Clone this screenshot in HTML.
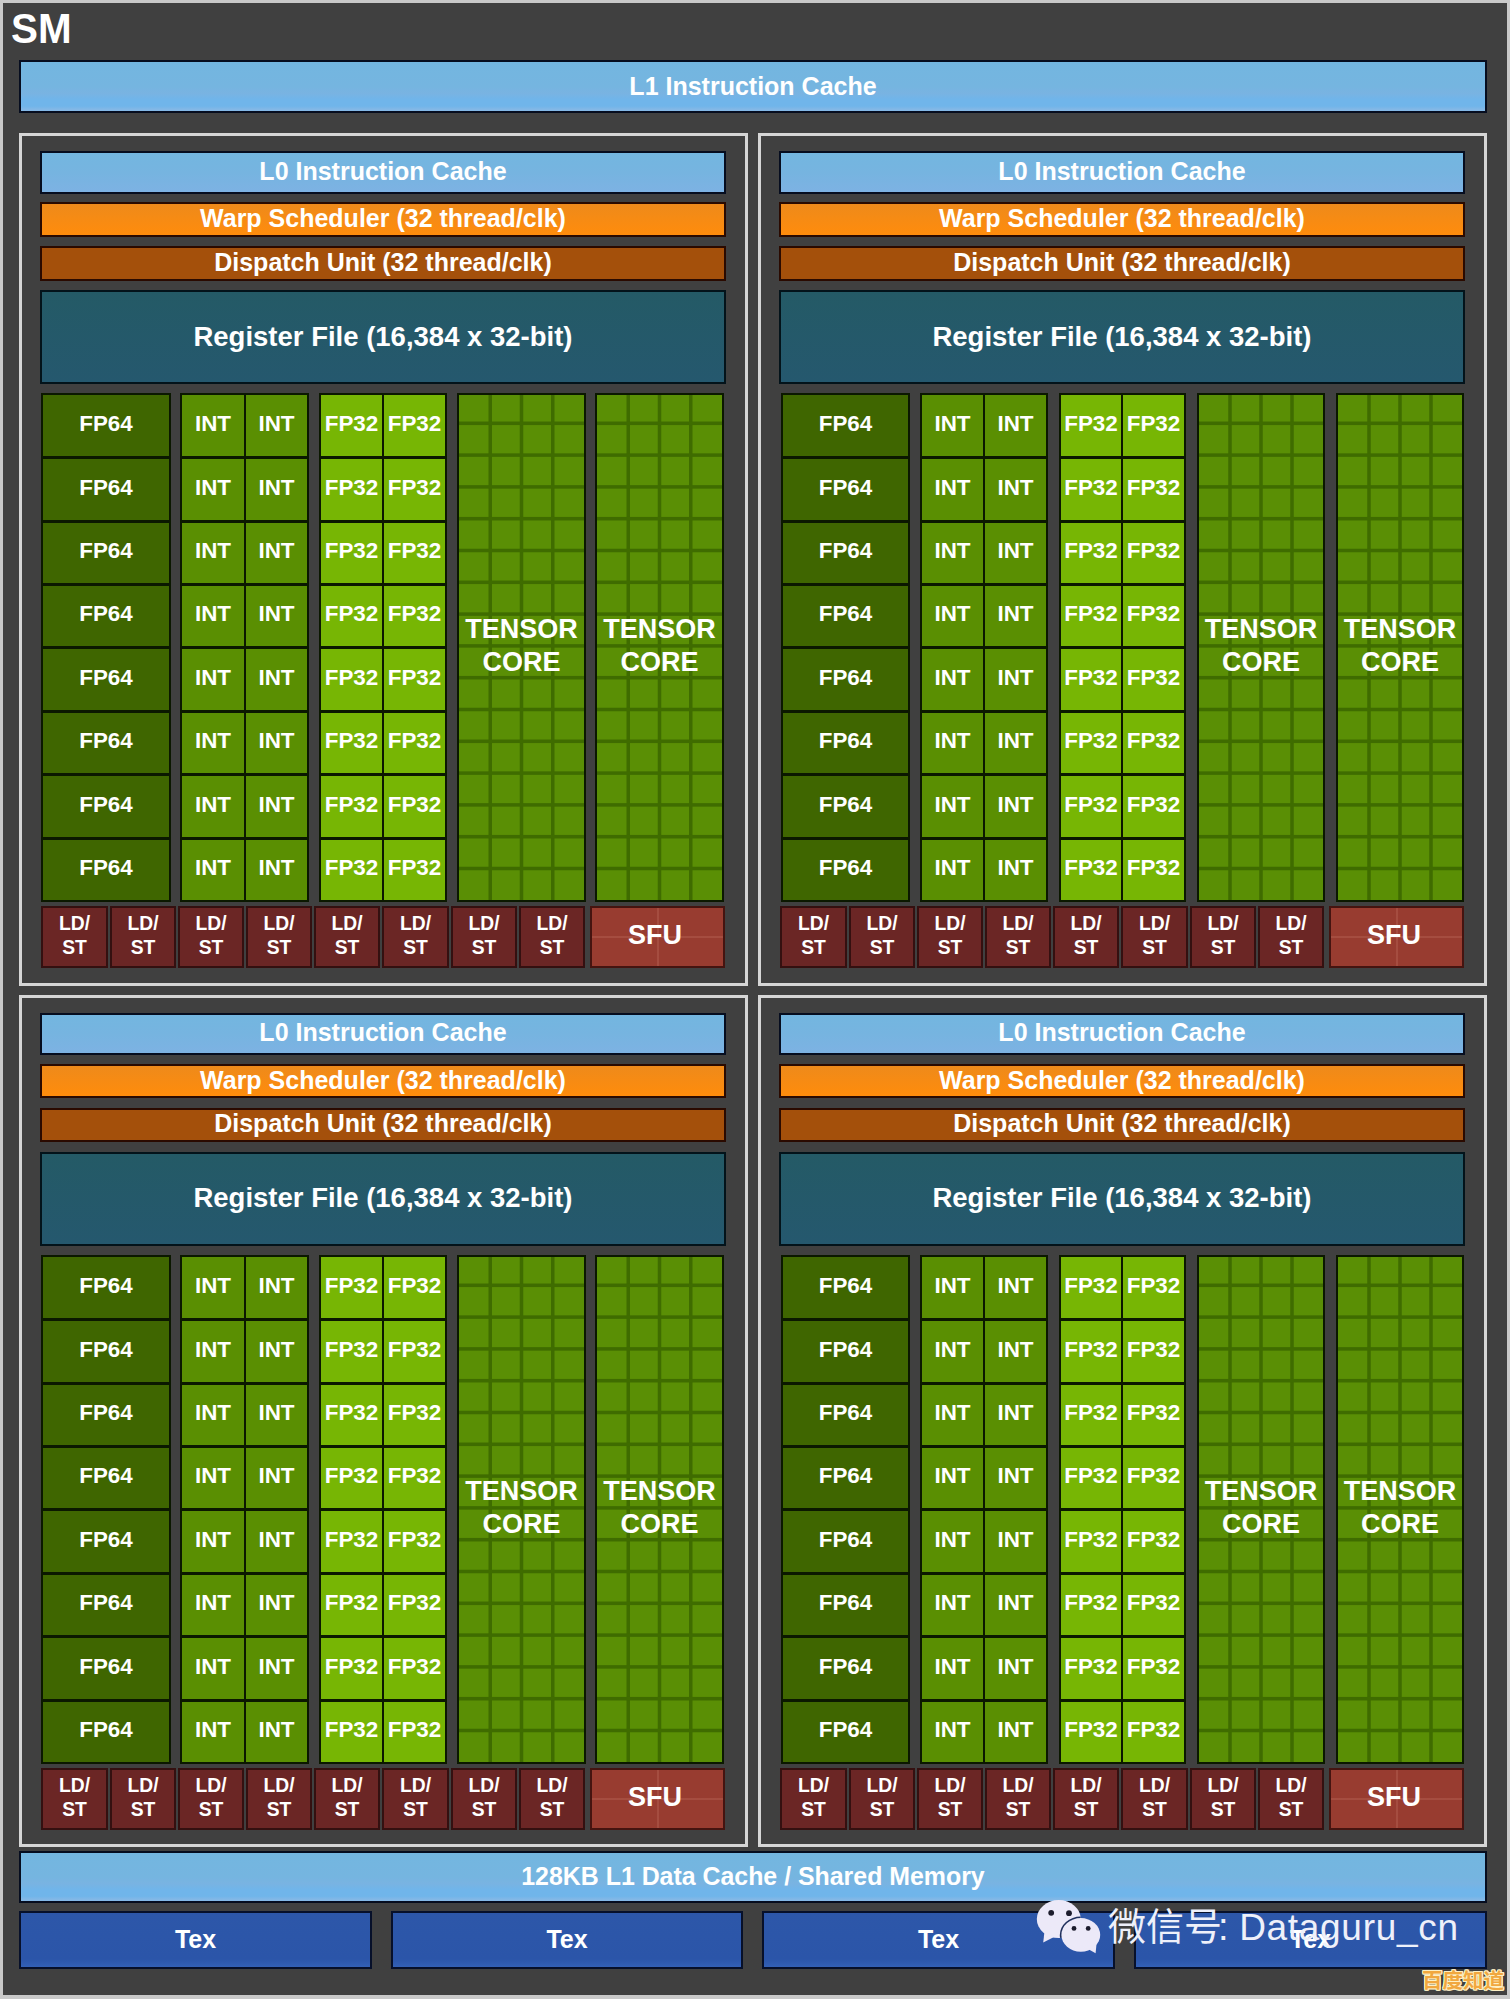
<!DOCTYPE html><html lang="en"><head><meta charset="utf-8"><title>SM</title><style>
*{margin:0;padding:0;box-sizing:border-box}
html,body{width:1510px;height:1999px;overflow:hidden;background:#c9c9c9}
body{position:relative;font-family:"Liberation Sans",sans-serif;font-weight:bold;color:#fff}
.a{position:absolute}
.c{position:absolute;display:flex;align-items:center;justify-content:center;text-align:center;white-space:nowrap}
#bg{left:3px;top:3px;width:1504px;height:1992px;background:#404040}
.sm{left:11px;top:5px;font-size:40.4px;line-height:46px;transform:scaleY(1.04);transform-origin:50% 50%}
.blue{background:linear-gradient(#73b6e0 0%,#75b5e0 50%,#79b3e2 64%,#70b5ea 76%,#70b5ea 90%,#84b8e6 97%);border:2px solid #060d1f;font-size:25px}
.l0{background:linear-gradient(#73b6e0 0%,#76b4e0 50%,#7db2e3 100%)}
.sub{border:3px solid #d6d6d6}
.warp{background:linear-gradient(#ee8a1b,#ff8c0c);border:2px solid #2a0a00;font-size:25px}
.disp{background:#a4500b;border:2px solid #2a0a00;font-size:25px}
.reg{background:linear-gradient(#245a66,#25586e);border:2px solid #03131a;font-size:27.5px}
.col{background:#0b1800}
.fp64{background:#3f6600;font-size:22.4px}
.int{background:#5a8f02;font-size:22.4px}
.fp32{background:#77b604;font-size:22.4px}
.tc{background-color:#5a8f05;border:2px solid #0b1800;font-size:27px;line-height:33px;white-space:normal}
.ld{background:#6b2625;border:2px solid #341010;font-size:19.3px;line-height:24px;white-space:normal}
.sfu{background:linear-gradient(90deg,transparent 65px,rgba(255,190,170,.13) 65px,rgba(255,190,170,.13) 67px,transparent 67px),linear-gradient(180deg,transparent 28px,rgba(255,190,170,.13) 28px,rgba(255,190,170,.13) 30px,transparent 30px),#983c30;border:2px solid #451410;font-size:27px}
.tex{background:linear-gradient(#2d57a9 0%,#2b55a9 85%,#3360b6 100%);border:2px solid #07102a;font-size:25px}
</style></head><body>
<div class="a" id="bg"></div>
<div class="a sm">SM</div>
<div class="c blue" style="left:19px;top:60px;width:1468px;height:53px;">L1 Instruction Cache</div>
<div class="c sub" style="left:19px;top:133px;width:729px;height:853px;"></div>
<div class="c blue l0" style="left:40px;top:151px;width:686px;height:43px;padding-bottom:3px;">L0 Instruction Cache</div>
<div class="c warp" style="left:40px;top:202px;width:686px;height:35px;padding-bottom:2px;">Warp Scheduler (32 thread/clk)</div>
<div class="c disp" style="left:40px;top:246px;width:686px;height:35px;padding-bottom:3px;">Dispatch Unit (32 thread/clk)</div>
<div class="c reg" style="left:40px;top:290px;width:686px;height:94px;padding-bottom:1px;">Register File (16,384 x 32-bit)</div>
<div class="c col" style="left:41px;top:393px;width:130px;height:509px;"></div>
<div class="c fp64" style="left:43px;top:395px;width:126px;height:61px;padding-bottom:4px;">FP64</div>
<div class="c fp64" style="left:43px;top:459px;width:126px;height:61px;padding-bottom:4px;">FP64</div>
<div class="c fp64" style="left:43px;top:523px;width:126px;height:60px;padding-bottom:4px;">FP64</div>
<div class="c fp64" style="left:43px;top:586px;width:126px;height:60px;padding-bottom:4px;">FP64</div>
<div class="c fp64" style="left:43px;top:649px;width:126px;height:61px;padding-bottom:4px;">FP64</div>
<div class="c fp64" style="left:43px;top:713px;width:126px;height:60px;padding-bottom:4px;">FP64</div>
<div class="c fp64" style="left:43px;top:776px;width:126px;height:61px;padding-bottom:4px;">FP64</div>
<div class="c fp64" style="left:43px;top:840px;width:126px;height:60px;padding-bottom:4px;">FP64</div>
<div class="c col" style="left:180px;top:393px;width:129px;height:509px;"></div>
<div class="c int" style="left:182px;top:395px;width:62px;height:61px;padding-bottom:4px;">INT</div>
<div class="c int" style="left:246px;top:395px;width:61px;height:61px;padding-bottom:4px;">INT</div>
<div class="c int" style="left:182px;top:459px;width:62px;height:61px;padding-bottom:4px;">INT</div>
<div class="c int" style="left:246px;top:459px;width:61px;height:61px;padding-bottom:4px;">INT</div>
<div class="c int" style="left:182px;top:523px;width:62px;height:60px;padding-bottom:4px;">INT</div>
<div class="c int" style="left:246px;top:523px;width:61px;height:60px;padding-bottom:4px;">INT</div>
<div class="c int" style="left:182px;top:586px;width:62px;height:60px;padding-bottom:4px;">INT</div>
<div class="c int" style="left:246px;top:586px;width:61px;height:60px;padding-bottom:4px;">INT</div>
<div class="c int" style="left:182px;top:649px;width:62px;height:61px;padding-bottom:4px;">INT</div>
<div class="c int" style="left:246px;top:649px;width:61px;height:61px;padding-bottom:4px;">INT</div>
<div class="c int" style="left:182px;top:713px;width:62px;height:60px;padding-bottom:4px;">INT</div>
<div class="c int" style="left:246px;top:713px;width:61px;height:60px;padding-bottom:4px;">INT</div>
<div class="c int" style="left:182px;top:776px;width:62px;height:61px;padding-bottom:4px;">INT</div>
<div class="c int" style="left:246px;top:776px;width:61px;height:61px;padding-bottom:4px;">INT</div>
<div class="c int" style="left:182px;top:840px;width:62px;height:60px;padding-bottom:4px;">INT</div>
<div class="c int" style="left:246px;top:840px;width:61px;height:60px;padding-bottom:4px;">INT</div>
<div class="c col" style="left:319px;top:393px;width:128px;height:509px;"></div>
<div class="c fp32" style="left:321px;top:395px;width:61px;height:61px;padding-bottom:4px;">FP32</div>
<div class="c fp32" style="left:384px;top:395px;width:61px;height:61px;padding-bottom:4px;">FP32</div>
<div class="c fp32" style="left:321px;top:459px;width:61px;height:61px;padding-bottom:4px;">FP32</div>
<div class="c fp32" style="left:384px;top:459px;width:61px;height:61px;padding-bottom:4px;">FP32</div>
<div class="c fp32" style="left:321px;top:523px;width:61px;height:60px;padding-bottom:4px;">FP32</div>
<div class="c fp32" style="left:384px;top:523px;width:61px;height:60px;padding-bottom:4px;">FP32</div>
<div class="c fp32" style="left:321px;top:586px;width:61px;height:60px;padding-bottom:4px;">FP32</div>
<div class="c fp32" style="left:384px;top:586px;width:61px;height:60px;padding-bottom:4px;">FP32</div>
<div class="c fp32" style="left:321px;top:649px;width:61px;height:61px;padding-bottom:4px;">FP32</div>
<div class="c fp32" style="left:384px;top:649px;width:61px;height:61px;padding-bottom:4px;">FP32</div>
<div class="c fp32" style="left:321px;top:713px;width:61px;height:60px;padding-bottom:4px;">FP32</div>
<div class="c fp32" style="left:384px;top:713px;width:61px;height:60px;padding-bottom:4px;">FP32</div>
<div class="c fp32" style="left:321px;top:776px;width:61px;height:61px;padding-bottom:4px;">FP32</div>
<div class="c fp32" style="left:384px;top:776px;width:61px;height:61px;padding-bottom:4px;">FP32</div>
<div class="c fp32" style="left:321px;top:840px;width:61px;height:60px;padding-bottom:4px;">FP32</div>
<div class="c fp32" style="left:384px;top:840px;width:61px;height:60px;padding-bottom:4px;">FP32</div>
<div class="c tc" style="left:457px;top:393px;width:129px;height:509px;"><svg class="a" style="left:0;top:0" width="125" height="505" viewBox="0 0 125 505"><rect x="29.50" y="0" width="3.5" height="505" fill="#3f6c00"/><rect x="60.75" y="0" width="3.5" height="505" fill="#3f6c00"/><rect x="92.00" y="0" width="3.5" height="505" fill="#3f6c00"/><rect x="0" y="26.55" width="125" height="3.5" fill="#3f6c00"/><rect x="0" y="58.35" width="125" height="3.5" fill="#3f6c00"/><rect x="0" y="90.15" width="125" height="3.5" fill="#3f6c00"/><rect x="0" y="121.95" width="125" height="3.5" fill="#3f6c00"/><rect x="0" y="153.75" width="125" height="3.5" fill="#3f6c00"/><rect x="0" y="185.55" width="125" height="3.5" fill="#3f6c00"/><rect x="0" y="217.35" width="125" height="3.5" fill="#3f6c00"/><rect x="0" y="249.15" width="125" height="3.5" fill="#3f6c00"/><rect x="0" y="280.95" width="125" height="3.5" fill="#3f6c00"/><rect x="0" y="312.75" width="125" height="3.5" fill="#3f6c00"/><rect x="0" y="344.55" width="125" height="3.5" fill="#3f6c00"/><rect x="0" y="376.35" width="125" height="3.5" fill="#3f6c00"/><rect x="0" y="408.15" width="125" height="3.5" fill="#3f6c00"/><rect x="0" y="439.95" width="125" height="3.5" fill="#3f6c00"/><rect x="0" y="471.75" width="125" height="3.5" fill="#3f6c00"/></svg><span style="position:relative;top:-2px">TENSOR<br>CORE</span></div>
<div class="c tc" style="left:595px;top:393px;width:129px;height:509px;"><svg class="a" style="left:0;top:0" width="125" height="505" viewBox="0 0 125 505"><rect x="29.50" y="0" width="3.5" height="505" fill="#3f6c00"/><rect x="60.75" y="0" width="3.5" height="505" fill="#3f6c00"/><rect x="92.00" y="0" width="3.5" height="505" fill="#3f6c00"/><rect x="0" y="26.55" width="125" height="3.5" fill="#3f6c00"/><rect x="0" y="58.35" width="125" height="3.5" fill="#3f6c00"/><rect x="0" y="90.15" width="125" height="3.5" fill="#3f6c00"/><rect x="0" y="121.95" width="125" height="3.5" fill="#3f6c00"/><rect x="0" y="153.75" width="125" height="3.5" fill="#3f6c00"/><rect x="0" y="185.55" width="125" height="3.5" fill="#3f6c00"/><rect x="0" y="217.35" width="125" height="3.5" fill="#3f6c00"/><rect x="0" y="249.15" width="125" height="3.5" fill="#3f6c00"/><rect x="0" y="280.95" width="125" height="3.5" fill="#3f6c00"/><rect x="0" y="312.75" width="125" height="3.5" fill="#3f6c00"/><rect x="0" y="344.55" width="125" height="3.5" fill="#3f6c00"/><rect x="0" y="376.35" width="125" height="3.5" fill="#3f6c00"/><rect x="0" y="408.15" width="125" height="3.5" fill="#3f6c00"/><rect x="0" y="439.95" width="125" height="3.5" fill="#3f6c00"/><rect x="0" y="471.75" width="125" height="3.5" fill="#3f6c00"/></svg><span style="position:relative;top:-2px">TENSOR<br>CORE</span></div>
<div class="c ld" style="left:41px;top:906px;width:67px;height:62px;padding-bottom:2px;">LD/<br>ST</div>
<div class="c ld" style="left:110px;top:906px;width:66px;height:62px;padding-bottom:2px;">LD/<br>ST</div>
<div class="c ld" style="left:178px;top:906px;width:66px;height:62px;padding-bottom:2px;">LD/<br>ST</div>
<div class="c ld" style="left:246px;top:906px;width:66px;height:62px;padding-bottom:2px;">LD/<br>ST</div>
<div class="c ld" style="left:314px;top:906px;width:66px;height:62px;padding-bottom:2px;">LD/<br>ST</div>
<div class="c ld" style="left:382px;top:906px;width:67px;height:62px;padding-bottom:2px;">LD/<br>ST</div>
<div class="c ld" style="left:451px;top:906px;width:66px;height:62px;padding-bottom:2px;">LD/<br>ST</div>
<div class="c ld" style="left:519px;top:906px;width:66px;height:62px;padding-bottom:2px;">LD/<br>ST</div>
<div class="c sfu" style="left:590px;top:906px;width:135px;height:62px;padding-bottom:4px;padding-right:5px;">SFU</div>
<div class="c sub" style="left:758px;top:133px;width:729px;height:853px;"></div>
<div class="c blue l0" style="left:779px;top:151px;width:686px;height:43px;padding-bottom:3px;">L0 Instruction Cache</div>
<div class="c warp" style="left:779px;top:202px;width:686px;height:35px;padding-bottom:2px;">Warp Scheduler (32 thread/clk)</div>
<div class="c disp" style="left:779px;top:246px;width:686px;height:35px;padding-bottom:3px;">Dispatch Unit (32 thread/clk)</div>
<div class="c reg" style="left:779px;top:290px;width:686px;height:94px;padding-bottom:1px;">Register File (16,384 x 32-bit)</div>
<div class="c col" style="left:781px;top:393px;width:129px;height:509px;"></div>
<div class="c fp64" style="left:783px;top:395px;width:125px;height:61px;padding-bottom:4px;">FP64</div>
<div class="c fp64" style="left:783px;top:459px;width:125px;height:61px;padding-bottom:4px;">FP64</div>
<div class="c fp64" style="left:783px;top:523px;width:125px;height:60px;padding-bottom:4px;">FP64</div>
<div class="c fp64" style="left:783px;top:586px;width:125px;height:60px;padding-bottom:4px;">FP64</div>
<div class="c fp64" style="left:783px;top:649px;width:125px;height:61px;padding-bottom:4px;">FP64</div>
<div class="c fp64" style="left:783px;top:713px;width:125px;height:60px;padding-bottom:4px;">FP64</div>
<div class="c fp64" style="left:783px;top:776px;width:125px;height:61px;padding-bottom:4px;">FP64</div>
<div class="c fp64" style="left:783px;top:840px;width:125px;height:60px;padding-bottom:4px;">FP64</div>
<div class="c col" style="left:920px;top:393px;width:128px;height:509px;"></div>
<div class="c int" style="left:922px;top:395px;width:61px;height:61px;padding-bottom:4px;">INT</div>
<div class="c int" style="left:985px;top:395px;width:61px;height:61px;padding-bottom:4px;">INT</div>
<div class="c int" style="left:922px;top:459px;width:61px;height:61px;padding-bottom:4px;">INT</div>
<div class="c int" style="left:985px;top:459px;width:61px;height:61px;padding-bottom:4px;">INT</div>
<div class="c int" style="left:922px;top:523px;width:61px;height:60px;padding-bottom:4px;">INT</div>
<div class="c int" style="left:985px;top:523px;width:61px;height:60px;padding-bottom:4px;">INT</div>
<div class="c int" style="left:922px;top:586px;width:61px;height:60px;padding-bottom:4px;">INT</div>
<div class="c int" style="left:985px;top:586px;width:61px;height:60px;padding-bottom:4px;">INT</div>
<div class="c int" style="left:922px;top:649px;width:61px;height:61px;padding-bottom:4px;">INT</div>
<div class="c int" style="left:985px;top:649px;width:61px;height:61px;padding-bottom:4px;">INT</div>
<div class="c int" style="left:922px;top:713px;width:61px;height:60px;padding-bottom:4px;">INT</div>
<div class="c int" style="left:985px;top:713px;width:61px;height:60px;padding-bottom:4px;">INT</div>
<div class="c int" style="left:922px;top:776px;width:61px;height:61px;padding-bottom:4px;">INT</div>
<div class="c int" style="left:985px;top:776px;width:61px;height:61px;padding-bottom:4px;">INT</div>
<div class="c int" style="left:922px;top:840px;width:61px;height:60px;padding-bottom:4px;">INT</div>
<div class="c int" style="left:985px;top:840px;width:61px;height:60px;padding-bottom:4px;">INT</div>
<div class="c col" style="left:1059px;top:393px;width:127px;height:509px;"></div>
<div class="c fp32" style="left:1061px;top:395px;width:60px;height:61px;padding-bottom:4px;">FP32</div>
<div class="c fp32" style="left:1123px;top:395px;width:61px;height:61px;padding-bottom:4px;">FP32</div>
<div class="c fp32" style="left:1061px;top:459px;width:60px;height:61px;padding-bottom:4px;">FP32</div>
<div class="c fp32" style="left:1123px;top:459px;width:61px;height:61px;padding-bottom:4px;">FP32</div>
<div class="c fp32" style="left:1061px;top:523px;width:60px;height:60px;padding-bottom:4px;">FP32</div>
<div class="c fp32" style="left:1123px;top:523px;width:61px;height:60px;padding-bottom:4px;">FP32</div>
<div class="c fp32" style="left:1061px;top:586px;width:60px;height:60px;padding-bottom:4px;">FP32</div>
<div class="c fp32" style="left:1123px;top:586px;width:61px;height:60px;padding-bottom:4px;">FP32</div>
<div class="c fp32" style="left:1061px;top:649px;width:60px;height:61px;padding-bottom:4px;">FP32</div>
<div class="c fp32" style="left:1123px;top:649px;width:61px;height:61px;padding-bottom:4px;">FP32</div>
<div class="c fp32" style="left:1061px;top:713px;width:60px;height:60px;padding-bottom:4px;">FP32</div>
<div class="c fp32" style="left:1123px;top:713px;width:61px;height:60px;padding-bottom:4px;">FP32</div>
<div class="c fp32" style="left:1061px;top:776px;width:60px;height:61px;padding-bottom:4px;">FP32</div>
<div class="c fp32" style="left:1123px;top:776px;width:61px;height:61px;padding-bottom:4px;">FP32</div>
<div class="c fp32" style="left:1061px;top:840px;width:60px;height:60px;padding-bottom:4px;">FP32</div>
<div class="c fp32" style="left:1123px;top:840px;width:61px;height:60px;padding-bottom:4px;">FP32</div>
<div class="c tc" style="left:1197px;top:393px;width:128px;height:509px;"><svg class="a" style="left:0;top:0" width="124" height="505" viewBox="0 0 124 505"><rect x="29.25" y="0" width="3.5" height="505" fill="#3f6c00"/><rect x="60.25" y="0" width="3.5" height="505" fill="#3f6c00"/><rect x="91.25" y="0" width="3.5" height="505" fill="#3f6c00"/><rect x="0" y="26.55" width="124" height="3.5" fill="#3f6c00"/><rect x="0" y="58.35" width="124" height="3.5" fill="#3f6c00"/><rect x="0" y="90.15" width="124" height="3.5" fill="#3f6c00"/><rect x="0" y="121.95" width="124" height="3.5" fill="#3f6c00"/><rect x="0" y="153.75" width="124" height="3.5" fill="#3f6c00"/><rect x="0" y="185.55" width="124" height="3.5" fill="#3f6c00"/><rect x="0" y="217.35" width="124" height="3.5" fill="#3f6c00"/><rect x="0" y="249.15" width="124" height="3.5" fill="#3f6c00"/><rect x="0" y="280.95" width="124" height="3.5" fill="#3f6c00"/><rect x="0" y="312.75" width="124" height="3.5" fill="#3f6c00"/><rect x="0" y="344.55" width="124" height="3.5" fill="#3f6c00"/><rect x="0" y="376.35" width="124" height="3.5" fill="#3f6c00"/><rect x="0" y="408.15" width="124" height="3.5" fill="#3f6c00"/><rect x="0" y="439.95" width="124" height="3.5" fill="#3f6c00"/><rect x="0" y="471.75" width="124" height="3.5" fill="#3f6c00"/></svg><span style="position:relative;top:-2px">TENSOR<br>CORE</span></div>
<div class="c tc" style="left:1336px;top:393px;width:128px;height:509px;"><svg class="a" style="left:0;top:0" width="124" height="505" viewBox="0 0 124 505"><rect x="29.25" y="0" width="3.5" height="505" fill="#3f6c00"/><rect x="60.25" y="0" width="3.5" height="505" fill="#3f6c00"/><rect x="91.25" y="0" width="3.5" height="505" fill="#3f6c00"/><rect x="0" y="26.55" width="124" height="3.5" fill="#3f6c00"/><rect x="0" y="58.35" width="124" height="3.5" fill="#3f6c00"/><rect x="0" y="90.15" width="124" height="3.5" fill="#3f6c00"/><rect x="0" y="121.95" width="124" height="3.5" fill="#3f6c00"/><rect x="0" y="153.75" width="124" height="3.5" fill="#3f6c00"/><rect x="0" y="185.55" width="124" height="3.5" fill="#3f6c00"/><rect x="0" y="217.35" width="124" height="3.5" fill="#3f6c00"/><rect x="0" y="249.15" width="124" height="3.5" fill="#3f6c00"/><rect x="0" y="280.95" width="124" height="3.5" fill="#3f6c00"/><rect x="0" y="312.75" width="124" height="3.5" fill="#3f6c00"/><rect x="0" y="344.55" width="124" height="3.5" fill="#3f6c00"/><rect x="0" y="376.35" width="124" height="3.5" fill="#3f6c00"/><rect x="0" y="408.15" width="124" height="3.5" fill="#3f6c00"/><rect x="0" y="439.95" width="124" height="3.5" fill="#3f6c00"/><rect x="0" y="471.75" width="124" height="3.5" fill="#3f6c00"/></svg><span style="position:relative;top:-2px">TENSOR<br>CORE</span></div>
<div class="c ld" style="left:780px;top:906px;width:67px;height:62px;padding-bottom:2px;">LD/<br>ST</div>
<div class="c ld" style="left:849px;top:906px;width:66px;height:62px;padding-bottom:2px;">LD/<br>ST</div>
<div class="c ld" style="left:917px;top:906px;width:66px;height:62px;padding-bottom:2px;">LD/<br>ST</div>
<div class="c ld" style="left:985px;top:906px;width:66px;height:62px;padding-bottom:2px;">LD/<br>ST</div>
<div class="c ld" style="left:1053px;top:906px;width:66px;height:62px;padding-bottom:2px;">LD/<br>ST</div>
<div class="c ld" style="left:1121px;top:906px;width:67px;height:62px;padding-bottom:2px;">LD/<br>ST</div>
<div class="c ld" style="left:1190px;top:906px;width:66px;height:62px;padding-bottom:2px;">LD/<br>ST</div>
<div class="c ld" style="left:1258px;top:906px;width:66px;height:62px;padding-bottom:2px;">LD/<br>ST</div>
<div class="c sfu" style="left:1329px;top:906px;width:135px;height:62px;padding-bottom:4px;padding-right:5px;">SFU</div>
<div class="c sub" style="left:19px;top:995px;width:729px;height:852px;"></div>
<div class="c blue l0" style="left:40px;top:1013px;width:686px;height:42px;padding-bottom:3px;">L0 Instruction Cache</div>
<div class="c warp" style="left:40px;top:1064px;width:686px;height:34px;padding-bottom:2px;">Warp Scheduler (32 thread/clk)</div>
<div class="c disp" style="left:40px;top:1108px;width:686px;height:34px;padding-bottom:3px;">Dispatch Unit (32 thread/clk)</div>
<div class="c reg" style="left:40px;top:1152px;width:686px;height:94px;padding-bottom:3px;">Register File (16,384 x 32-bit)</div>
<div class="c col" style="left:41px;top:1255px;width:130px;height:509px;"></div>
<div class="c fp64" style="left:43px;top:1257px;width:126px;height:61px;padding-bottom:4px;">FP64</div>
<div class="c fp64" style="left:43px;top:1321px;width:126px;height:61px;padding-bottom:4px;">FP64</div>
<div class="c fp64" style="left:43px;top:1385px;width:126px;height:60px;padding-bottom:4px;">FP64</div>
<div class="c fp64" style="left:43px;top:1448px;width:126px;height:60px;padding-bottom:4px;">FP64</div>
<div class="c fp64" style="left:43px;top:1511px;width:126px;height:61px;padding-bottom:4px;">FP64</div>
<div class="c fp64" style="left:43px;top:1575px;width:126px;height:60px;padding-bottom:4px;">FP64</div>
<div class="c fp64" style="left:43px;top:1638px;width:126px;height:61px;padding-bottom:4px;">FP64</div>
<div class="c fp64" style="left:43px;top:1702px;width:126px;height:60px;padding-bottom:4px;">FP64</div>
<div class="c col" style="left:180px;top:1255px;width:129px;height:509px;"></div>
<div class="c int" style="left:182px;top:1257px;width:62px;height:61px;padding-bottom:4px;">INT</div>
<div class="c int" style="left:246px;top:1257px;width:61px;height:61px;padding-bottom:4px;">INT</div>
<div class="c int" style="left:182px;top:1321px;width:62px;height:61px;padding-bottom:4px;">INT</div>
<div class="c int" style="left:246px;top:1321px;width:61px;height:61px;padding-bottom:4px;">INT</div>
<div class="c int" style="left:182px;top:1385px;width:62px;height:60px;padding-bottom:4px;">INT</div>
<div class="c int" style="left:246px;top:1385px;width:61px;height:60px;padding-bottom:4px;">INT</div>
<div class="c int" style="left:182px;top:1448px;width:62px;height:60px;padding-bottom:4px;">INT</div>
<div class="c int" style="left:246px;top:1448px;width:61px;height:60px;padding-bottom:4px;">INT</div>
<div class="c int" style="left:182px;top:1511px;width:62px;height:61px;padding-bottom:4px;">INT</div>
<div class="c int" style="left:246px;top:1511px;width:61px;height:61px;padding-bottom:4px;">INT</div>
<div class="c int" style="left:182px;top:1575px;width:62px;height:60px;padding-bottom:4px;">INT</div>
<div class="c int" style="left:246px;top:1575px;width:61px;height:60px;padding-bottom:4px;">INT</div>
<div class="c int" style="left:182px;top:1638px;width:62px;height:61px;padding-bottom:4px;">INT</div>
<div class="c int" style="left:246px;top:1638px;width:61px;height:61px;padding-bottom:4px;">INT</div>
<div class="c int" style="left:182px;top:1702px;width:62px;height:60px;padding-bottom:4px;">INT</div>
<div class="c int" style="left:246px;top:1702px;width:61px;height:60px;padding-bottom:4px;">INT</div>
<div class="c col" style="left:319px;top:1255px;width:128px;height:509px;"></div>
<div class="c fp32" style="left:321px;top:1257px;width:61px;height:61px;padding-bottom:4px;">FP32</div>
<div class="c fp32" style="left:384px;top:1257px;width:61px;height:61px;padding-bottom:4px;">FP32</div>
<div class="c fp32" style="left:321px;top:1321px;width:61px;height:61px;padding-bottom:4px;">FP32</div>
<div class="c fp32" style="left:384px;top:1321px;width:61px;height:61px;padding-bottom:4px;">FP32</div>
<div class="c fp32" style="left:321px;top:1385px;width:61px;height:60px;padding-bottom:4px;">FP32</div>
<div class="c fp32" style="left:384px;top:1385px;width:61px;height:60px;padding-bottom:4px;">FP32</div>
<div class="c fp32" style="left:321px;top:1448px;width:61px;height:60px;padding-bottom:4px;">FP32</div>
<div class="c fp32" style="left:384px;top:1448px;width:61px;height:60px;padding-bottom:4px;">FP32</div>
<div class="c fp32" style="left:321px;top:1511px;width:61px;height:61px;padding-bottom:4px;">FP32</div>
<div class="c fp32" style="left:384px;top:1511px;width:61px;height:61px;padding-bottom:4px;">FP32</div>
<div class="c fp32" style="left:321px;top:1575px;width:61px;height:60px;padding-bottom:4px;">FP32</div>
<div class="c fp32" style="left:384px;top:1575px;width:61px;height:60px;padding-bottom:4px;">FP32</div>
<div class="c fp32" style="left:321px;top:1638px;width:61px;height:61px;padding-bottom:4px;">FP32</div>
<div class="c fp32" style="left:384px;top:1638px;width:61px;height:61px;padding-bottom:4px;">FP32</div>
<div class="c fp32" style="left:321px;top:1702px;width:61px;height:60px;padding-bottom:4px;">FP32</div>
<div class="c fp32" style="left:384px;top:1702px;width:61px;height:60px;padding-bottom:4px;">FP32</div>
<div class="c tc" style="left:457px;top:1255px;width:129px;height:509px;"><svg class="a" style="left:0;top:0" width="125" height="505" viewBox="0 0 125 505"><rect x="29.50" y="0" width="3.5" height="505" fill="#3f6c00"/><rect x="60.75" y="0" width="3.5" height="505" fill="#3f6c00"/><rect x="92.00" y="0" width="3.5" height="505" fill="#3f6c00"/><rect x="0" y="26.55" width="125" height="3.5" fill="#3f6c00"/><rect x="0" y="58.35" width="125" height="3.5" fill="#3f6c00"/><rect x="0" y="90.15" width="125" height="3.5" fill="#3f6c00"/><rect x="0" y="121.95" width="125" height="3.5" fill="#3f6c00"/><rect x="0" y="153.75" width="125" height="3.5" fill="#3f6c00"/><rect x="0" y="185.55" width="125" height="3.5" fill="#3f6c00"/><rect x="0" y="217.35" width="125" height="3.5" fill="#3f6c00"/><rect x="0" y="249.15" width="125" height="3.5" fill="#3f6c00"/><rect x="0" y="280.95" width="125" height="3.5" fill="#3f6c00"/><rect x="0" y="312.75" width="125" height="3.5" fill="#3f6c00"/><rect x="0" y="344.55" width="125" height="3.5" fill="#3f6c00"/><rect x="0" y="376.35" width="125" height="3.5" fill="#3f6c00"/><rect x="0" y="408.15" width="125" height="3.5" fill="#3f6c00"/><rect x="0" y="439.95" width="125" height="3.5" fill="#3f6c00"/><rect x="0" y="471.75" width="125" height="3.5" fill="#3f6c00"/></svg><span style="position:relative;top:-2px">TENSOR<br>CORE</span></div>
<div class="c tc" style="left:595px;top:1255px;width:129px;height:509px;"><svg class="a" style="left:0;top:0" width="125" height="505" viewBox="0 0 125 505"><rect x="29.50" y="0" width="3.5" height="505" fill="#3f6c00"/><rect x="60.75" y="0" width="3.5" height="505" fill="#3f6c00"/><rect x="92.00" y="0" width="3.5" height="505" fill="#3f6c00"/><rect x="0" y="26.55" width="125" height="3.5" fill="#3f6c00"/><rect x="0" y="58.35" width="125" height="3.5" fill="#3f6c00"/><rect x="0" y="90.15" width="125" height="3.5" fill="#3f6c00"/><rect x="0" y="121.95" width="125" height="3.5" fill="#3f6c00"/><rect x="0" y="153.75" width="125" height="3.5" fill="#3f6c00"/><rect x="0" y="185.55" width="125" height="3.5" fill="#3f6c00"/><rect x="0" y="217.35" width="125" height="3.5" fill="#3f6c00"/><rect x="0" y="249.15" width="125" height="3.5" fill="#3f6c00"/><rect x="0" y="280.95" width="125" height="3.5" fill="#3f6c00"/><rect x="0" y="312.75" width="125" height="3.5" fill="#3f6c00"/><rect x="0" y="344.55" width="125" height="3.5" fill="#3f6c00"/><rect x="0" y="376.35" width="125" height="3.5" fill="#3f6c00"/><rect x="0" y="408.15" width="125" height="3.5" fill="#3f6c00"/><rect x="0" y="439.95" width="125" height="3.5" fill="#3f6c00"/><rect x="0" y="471.75" width="125" height="3.5" fill="#3f6c00"/></svg><span style="position:relative;top:-2px">TENSOR<br>CORE</span></div>
<div class="c ld" style="left:41px;top:1768px;width:67px;height:62px;padding-bottom:2px;">LD/<br>ST</div>
<div class="c ld" style="left:110px;top:1768px;width:66px;height:62px;padding-bottom:2px;">LD/<br>ST</div>
<div class="c ld" style="left:178px;top:1768px;width:66px;height:62px;padding-bottom:2px;">LD/<br>ST</div>
<div class="c ld" style="left:246px;top:1768px;width:66px;height:62px;padding-bottom:2px;">LD/<br>ST</div>
<div class="c ld" style="left:314px;top:1768px;width:66px;height:62px;padding-bottom:2px;">LD/<br>ST</div>
<div class="c ld" style="left:382px;top:1768px;width:67px;height:62px;padding-bottom:2px;">LD/<br>ST</div>
<div class="c ld" style="left:451px;top:1768px;width:66px;height:62px;padding-bottom:2px;">LD/<br>ST</div>
<div class="c ld" style="left:519px;top:1768px;width:66px;height:62px;padding-bottom:2px;">LD/<br>ST</div>
<div class="c sfu" style="left:590px;top:1768px;width:135px;height:62px;padding-bottom:4px;padding-right:5px;">SFU</div>
<div class="c sub" style="left:758px;top:995px;width:729px;height:852px;"></div>
<div class="c blue l0" style="left:779px;top:1013px;width:686px;height:42px;padding-bottom:3px;">L0 Instruction Cache</div>
<div class="c warp" style="left:779px;top:1064px;width:686px;height:34px;padding-bottom:2px;">Warp Scheduler (32 thread/clk)</div>
<div class="c disp" style="left:779px;top:1108px;width:686px;height:34px;padding-bottom:3px;">Dispatch Unit (32 thread/clk)</div>
<div class="c reg" style="left:779px;top:1152px;width:686px;height:94px;padding-bottom:3px;">Register File (16,384 x 32-bit)</div>
<div class="c col" style="left:781px;top:1255px;width:129px;height:509px;"></div>
<div class="c fp64" style="left:783px;top:1257px;width:125px;height:61px;padding-bottom:4px;">FP64</div>
<div class="c fp64" style="left:783px;top:1321px;width:125px;height:61px;padding-bottom:4px;">FP64</div>
<div class="c fp64" style="left:783px;top:1385px;width:125px;height:60px;padding-bottom:4px;">FP64</div>
<div class="c fp64" style="left:783px;top:1448px;width:125px;height:60px;padding-bottom:4px;">FP64</div>
<div class="c fp64" style="left:783px;top:1511px;width:125px;height:61px;padding-bottom:4px;">FP64</div>
<div class="c fp64" style="left:783px;top:1575px;width:125px;height:60px;padding-bottom:4px;">FP64</div>
<div class="c fp64" style="left:783px;top:1638px;width:125px;height:61px;padding-bottom:4px;">FP64</div>
<div class="c fp64" style="left:783px;top:1702px;width:125px;height:60px;padding-bottom:4px;">FP64</div>
<div class="c col" style="left:920px;top:1255px;width:128px;height:509px;"></div>
<div class="c int" style="left:922px;top:1257px;width:61px;height:61px;padding-bottom:4px;">INT</div>
<div class="c int" style="left:985px;top:1257px;width:61px;height:61px;padding-bottom:4px;">INT</div>
<div class="c int" style="left:922px;top:1321px;width:61px;height:61px;padding-bottom:4px;">INT</div>
<div class="c int" style="left:985px;top:1321px;width:61px;height:61px;padding-bottom:4px;">INT</div>
<div class="c int" style="left:922px;top:1385px;width:61px;height:60px;padding-bottom:4px;">INT</div>
<div class="c int" style="left:985px;top:1385px;width:61px;height:60px;padding-bottom:4px;">INT</div>
<div class="c int" style="left:922px;top:1448px;width:61px;height:60px;padding-bottom:4px;">INT</div>
<div class="c int" style="left:985px;top:1448px;width:61px;height:60px;padding-bottom:4px;">INT</div>
<div class="c int" style="left:922px;top:1511px;width:61px;height:61px;padding-bottom:4px;">INT</div>
<div class="c int" style="left:985px;top:1511px;width:61px;height:61px;padding-bottom:4px;">INT</div>
<div class="c int" style="left:922px;top:1575px;width:61px;height:60px;padding-bottom:4px;">INT</div>
<div class="c int" style="left:985px;top:1575px;width:61px;height:60px;padding-bottom:4px;">INT</div>
<div class="c int" style="left:922px;top:1638px;width:61px;height:61px;padding-bottom:4px;">INT</div>
<div class="c int" style="left:985px;top:1638px;width:61px;height:61px;padding-bottom:4px;">INT</div>
<div class="c int" style="left:922px;top:1702px;width:61px;height:60px;padding-bottom:4px;">INT</div>
<div class="c int" style="left:985px;top:1702px;width:61px;height:60px;padding-bottom:4px;">INT</div>
<div class="c col" style="left:1059px;top:1255px;width:127px;height:509px;"></div>
<div class="c fp32" style="left:1061px;top:1257px;width:60px;height:61px;padding-bottom:4px;">FP32</div>
<div class="c fp32" style="left:1123px;top:1257px;width:61px;height:61px;padding-bottom:4px;">FP32</div>
<div class="c fp32" style="left:1061px;top:1321px;width:60px;height:61px;padding-bottom:4px;">FP32</div>
<div class="c fp32" style="left:1123px;top:1321px;width:61px;height:61px;padding-bottom:4px;">FP32</div>
<div class="c fp32" style="left:1061px;top:1385px;width:60px;height:60px;padding-bottom:4px;">FP32</div>
<div class="c fp32" style="left:1123px;top:1385px;width:61px;height:60px;padding-bottom:4px;">FP32</div>
<div class="c fp32" style="left:1061px;top:1448px;width:60px;height:60px;padding-bottom:4px;">FP32</div>
<div class="c fp32" style="left:1123px;top:1448px;width:61px;height:60px;padding-bottom:4px;">FP32</div>
<div class="c fp32" style="left:1061px;top:1511px;width:60px;height:61px;padding-bottom:4px;">FP32</div>
<div class="c fp32" style="left:1123px;top:1511px;width:61px;height:61px;padding-bottom:4px;">FP32</div>
<div class="c fp32" style="left:1061px;top:1575px;width:60px;height:60px;padding-bottom:4px;">FP32</div>
<div class="c fp32" style="left:1123px;top:1575px;width:61px;height:60px;padding-bottom:4px;">FP32</div>
<div class="c fp32" style="left:1061px;top:1638px;width:60px;height:61px;padding-bottom:4px;">FP32</div>
<div class="c fp32" style="left:1123px;top:1638px;width:61px;height:61px;padding-bottom:4px;">FP32</div>
<div class="c fp32" style="left:1061px;top:1702px;width:60px;height:60px;padding-bottom:4px;">FP32</div>
<div class="c fp32" style="left:1123px;top:1702px;width:61px;height:60px;padding-bottom:4px;">FP32</div>
<div class="c tc" style="left:1197px;top:1255px;width:128px;height:509px;"><svg class="a" style="left:0;top:0" width="124" height="505" viewBox="0 0 124 505"><rect x="29.25" y="0" width="3.5" height="505" fill="#3f6c00"/><rect x="60.25" y="0" width="3.5" height="505" fill="#3f6c00"/><rect x="91.25" y="0" width="3.5" height="505" fill="#3f6c00"/><rect x="0" y="26.55" width="124" height="3.5" fill="#3f6c00"/><rect x="0" y="58.35" width="124" height="3.5" fill="#3f6c00"/><rect x="0" y="90.15" width="124" height="3.5" fill="#3f6c00"/><rect x="0" y="121.95" width="124" height="3.5" fill="#3f6c00"/><rect x="0" y="153.75" width="124" height="3.5" fill="#3f6c00"/><rect x="0" y="185.55" width="124" height="3.5" fill="#3f6c00"/><rect x="0" y="217.35" width="124" height="3.5" fill="#3f6c00"/><rect x="0" y="249.15" width="124" height="3.5" fill="#3f6c00"/><rect x="0" y="280.95" width="124" height="3.5" fill="#3f6c00"/><rect x="0" y="312.75" width="124" height="3.5" fill="#3f6c00"/><rect x="0" y="344.55" width="124" height="3.5" fill="#3f6c00"/><rect x="0" y="376.35" width="124" height="3.5" fill="#3f6c00"/><rect x="0" y="408.15" width="124" height="3.5" fill="#3f6c00"/><rect x="0" y="439.95" width="124" height="3.5" fill="#3f6c00"/><rect x="0" y="471.75" width="124" height="3.5" fill="#3f6c00"/></svg><span style="position:relative;top:-2px">TENSOR<br>CORE</span></div>
<div class="c tc" style="left:1336px;top:1255px;width:128px;height:509px;"><svg class="a" style="left:0;top:0" width="124" height="505" viewBox="0 0 124 505"><rect x="29.25" y="0" width="3.5" height="505" fill="#3f6c00"/><rect x="60.25" y="0" width="3.5" height="505" fill="#3f6c00"/><rect x="91.25" y="0" width="3.5" height="505" fill="#3f6c00"/><rect x="0" y="26.55" width="124" height="3.5" fill="#3f6c00"/><rect x="0" y="58.35" width="124" height="3.5" fill="#3f6c00"/><rect x="0" y="90.15" width="124" height="3.5" fill="#3f6c00"/><rect x="0" y="121.95" width="124" height="3.5" fill="#3f6c00"/><rect x="0" y="153.75" width="124" height="3.5" fill="#3f6c00"/><rect x="0" y="185.55" width="124" height="3.5" fill="#3f6c00"/><rect x="0" y="217.35" width="124" height="3.5" fill="#3f6c00"/><rect x="0" y="249.15" width="124" height="3.5" fill="#3f6c00"/><rect x="0" y="280.95" width="124" height="3.5" fill="#3f6c00"/><rect x="0" y="312.75" width="124" height="3.5" fill="#3f6c00"/><rect x="0" y="344.55" width="124" height="3.5" fill="#3f6c00"/><rect x="0" y="376.35" width="124" height="3.5" fill="#3f6c00"/><rect x="0" y="408.15" width="124" height="3.5" fill="#3f6c00"/><rect x="0" y="439.95" width="124" height="3.5" fill="#3f6c00"/><rect x="0" y="471.75" width="124" height="3.5" fill="#3f6c00"/></svg><span style="position:relative;top:-2px">TENSOR<br>CORE</span></div>
<div class="c ld" style="left:780px;top:1768px;width:67px;height:62px;padding-bottom:2px;">LD/<br>ST</div>
<div class="c ld" style="left:849px;top:1768px;width:66px;height:62px;padding-bottom:2px;">LD/<br>ST</div>
<div class="c ld" style="left:917px;top:1768px;width:66px;height:62px;padding-bottom:2px;">LD/<br>ST</div>
<div class="c ld" style="left:985px;top:1768px;width:66px;height:62px;padding-bottom:2px;">LD/<br>ST</div>
<div class="c ld" style="left:1053px;top:1768px;width:66px;height:62px;padding-bottom:2px;">LD/<br>ST</div>
<div class="c ld" style="left:1121px;top:1768px;width:67px;height:62px;padding-bottom:2px;">LD/<br>ST</div>
<div class="c ld" style="left:1190px;top:1768px;width:66px;height:62px;padding-bottom:2px;">LD/<br>ST</div>
<div class="c ld" style="left:1258px;top:1768px;width:66px;height:62px;padding-bottom:2px;">LD/<br>ST</div>
<div class="c sfu" style="left:1329px;top:1768px;width:135px;height:62px;padding-bottom:4px;padding-right:5px;">SFU</div>
<div class="c blue" style="left:19px;top:1851px;width:1468px;height:52px;padding-bottom:2px;font-size:24.9px;">128KB L1 Data Cache / Shared Memory</div>
<div class="c tex" style="left:19px;top:1911px;width:353px;height:58px;padding-bottom:2px;">Tex</div>
<div class="c tex" style="left:391px;top:1911px;width:352px;height:58px;padding-bottom:2px;">Tex</div>
<div class="c tex" style="left:762px;top:1911px;width:353px;height:58px;padding-bottom:2px;">Tex</div>
<div class="c tex" style="left:1134px;top:1911px;width:353px;height:58px;padding-bottom:2px;">Tex</div>
<svg class="a" style="left:1030px;top:1895px" width="80" height="64" viewBox="0 0 80 64"><g fill="#ece9f8"><ellipse cx="28.8" cy="24.1" rx="22" ry="19"/><path d="M14.500 36.500 L13.200 47.500 L25 41.500 Z"/><clipPath id="bb"><ellipse cx="28.8" cy="24.1" rx="22" ry="19"/></clipPath><ellipse cx="50.800" cy="39.900" rx="21" ry="18.300" fill="#1f2f5c" clip-path="url(#bb)"/><ellipse cx="50.800" cy="39.900" rx="19.400" ry="16.800"/><path d="M58 54 L65.600 58.200 L66.500 49 Z"/></g><g fill="#1c1c2c"><circle cx="21.200" cy="17.800" r="2.900"/><circle cx="39" cy="18.200" r="2.900"/><circle cx="44" cy="33.400" r="2.400"/><circle cx="58.200" cy="33.400" r="2.400"/></g></svg>
<div class="a" style="left:1108px;top:1899px;font-family:'Liberation Sans','Noto Sans CJK SC',sans-serif;font-weight:400;font-size:38px;line-height:56px;color:#eef0fa;white-space:nowrap">微信号<span style="margin-left:-4px">:</span> <span style="font-size:37px;letter-spacing:0.7px">Dataguru_cn</span></div>
<div class="a" style="left:1422px;top:1967.5px;font-family:'Liberation Sans','Noto Sans CJK SC',sans-serif;font-weight:700;font-size:20.5px;line-height:26px;color:#f1a83f;white-space:nowrap;text-shadow:-1px -1px 0 #fdf0c4,1px -1px 0 #fdf0c4,-1px 1px 0 #fdf0c4,1px 1px 0 #fdf0c4,0 1px 0 #fdf0c4,0 -1px 0 #fdf0c4,1px 0 0 #fdf0c4,-1px 0 0 #fdf0c4">百度知道</div>
</body></html>
